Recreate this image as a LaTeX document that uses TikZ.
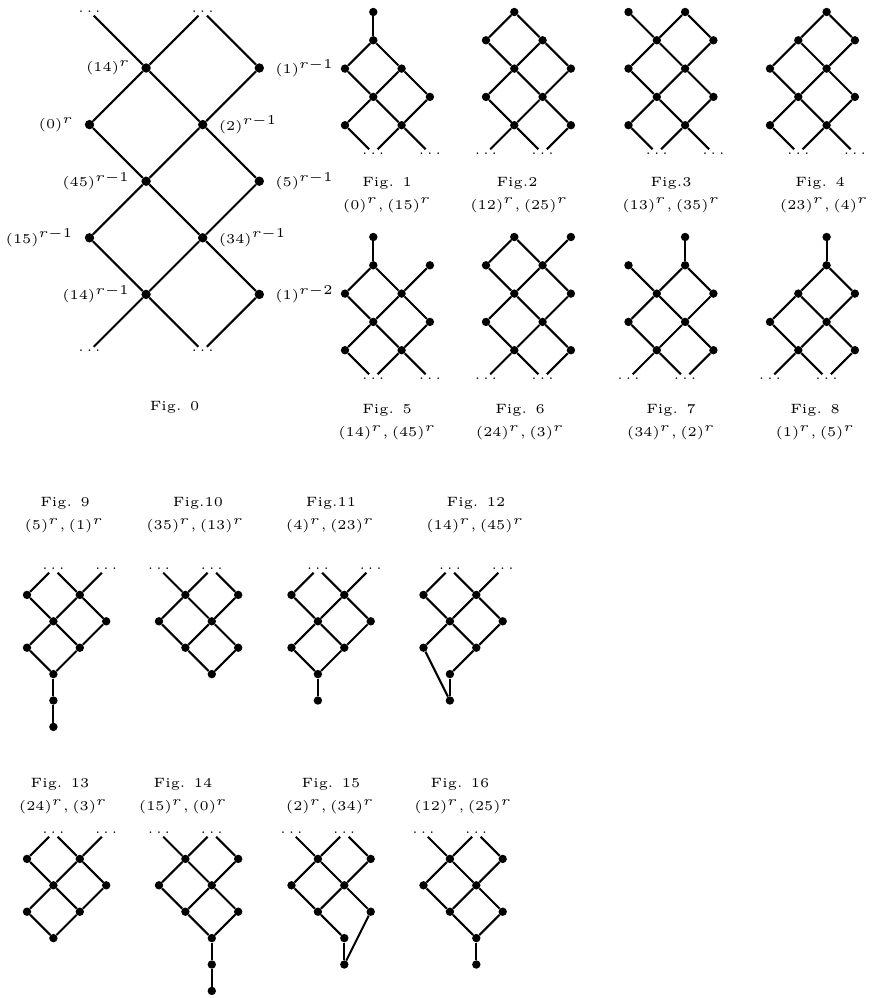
\documentclass[tikz,border=0pt]{standalone}
\newcommand\sm[1]{\scalebox{2.7}{\tiny #1}}
\newcommand\dts{\sm{.\kern1.1pt.\kern1.1pt.}}
\tikzset{
  dot/.style={circle,fill,inner sep=0pt,minimum size=8.4pt},
  bigdot/.style={dot,minimum size=9.4pt},
  edge/.style={line width=2.1pt},
  open/.style={edge,shorten >=6pt},
  lab/.style={inner sep=0pt},
  ell/.style={lab}
}
% one small lattice: prefix, origin, unit, nodes, dots, edges, open ends
\newcommand\lat[7]{%
\begin{scope}[name prefix=#1-,shift={#2},x=#3,y=-#3]
  \foreach \c/\r in {#4} \node[dot] (\c\r) at (\c,\r) {};
  \foreach \c/\r in {#5} \node[ell] (d\c) at (\c,\r) {\dts};
  \foreach \a/\b in {#6} \draw[edge] (\a) -- (\b);
  \foreach \a/\b in {#7} \draw[open] (\a) -- (d\b.center);
\end{scope}}
\begin{document}
\begin{tikzpicture}[x=1pt,y=-1pt]
\useasboundingbox (0,0) rectangle (874,998);
% Fig. 0
\begin{scope}[name prefix=z-,shift={(89.5,68)},x=56.6pt,y=-56.6pt,label distance=11pt]
  \node[bigdot,label={[lab]left:\sm{$(14)^r$}}] (10) at (1,0) {};
  \node[bigdot,label={[lab]right:\sm{$(1)^{r-1}$}}] (30) at (3,0) {};
  \node[bigdot,label={[lab]left:\sm{$(0)^r$}}] (01) at (0,1) {};
  \node[bigdot,label={[lab]right:\sm{$(2)^{r-1}$}}] (21) at (2,1) {};
  \node[bigdot,label={[lab]left:\sm{$(45)^{r-1}$}}] (12) at (1,2) {};
  \node[bigdot,label={[lab]right:\sm{$(5)^{r-1}$}}] (32) at (3,2) {};
  \node[bigdot,label={[lab]left:\sm{$(15)^{r-1}$}}] (03) at (0,3) {};
  \node[bigdot,label={[lab]right:\sm{$(34)^{r-1}$}}] (23) at (2,3) {};
  \node[bigdot,label={[lab]left:\sm{$(14)^{r-1}$}}] (14) at (1,4) {};
  \node[bigdot,label={[lab]right:\sm{$(1)^{r-2}$}}] (34) at (3,4) {};
  \node[ell] (t0) at (0,-1) {\dts};
  \node[ell] (t2) at (2,-1) {\dts};
  \node[ell] (b0) at (0,5) {\dts};
  \node[ell] (b2) at (2,5) {\dts};
  \foreach \a/\b in {10/01,10/21,30/21,01/12,21/12,21/32,12/03,12/23,32/23,03/14,23/14,23/34}
    \draw[edge] (\a) -- (\b);
  \foreach \a/\b in {10/t0,10/t2,30/t2,14/b0,14/b2,34/b2}
    \draw[open] (\a) -- (\b.center);
\end{scope}
\node[lab] (f0) at (174.5,407) {\sm{Fig. 0}};
% top rows
\lat{a1}{(345,12)}{28.3pt}{1/0,1/1,0/2,2/2,1/3,3/3,0/4,2/4}{1/5,3/5}{10/11,11/02,11/22,02/13,22/13,22/33,13/04,13/24,33/24}{04/1,24/1,24/3}
\lat{a2}{(486,12)}{28.3pt}{1/0,0/1,2/1,1/2,3/2,0/3,2/3,1/4,3/4}{0/5,2/5}{10/01,10/21,01/12,21/12,21/32,12/03,12/23,32/23,03/14,23/14,23/34}{14/0,14/2,34/2}
\lat{a3}{(628.5,12)}{28.3pt}{0/0,2/0,1/1,3/1,0/2,2/2,1/3,3/3,0/4,2/4}{1/5,3/5}{00/11,20/11,20/31,11/02,11/22,31/22,02/13,22/13,22/33,13/04,13/24,33/24}{04/1,24/1,24/3}
\lat{a4}{(770,12)}{28.3pt}{2/0,1/1,3/1,0/2,2/2,1/3,3/3,0/4,2/4}{1/5,3/5}{20/11,20/31,11/02,11/22,31/22,02/13,22/13,22/33,13/04,13/24,33/24}{04/1,24/1,24/3}
\lat{a5}{(345,237)}{28.3pt}{1/0,1/1,3/1,0/2,2/2,1/3,3/3,0/4,2/4}{1/5,3/5}{10/11,11/02,11/22,31/22,02/13,22/13,22/33,13/04,13/24,33/24}{04/1,24/1,24/3}
\lat{a6}{(486,237)}{28.3pt}{1/0,3/0,0/1,2/1,1/2,3/2,0/3,2/3,1/4,3/4}{0/5,2/5}{10/01,10/21,30/21,01/12,21/12,21/32,12/03,12/23,32/23,03/14,23/14,23/34}{14/0,14/2,34/2}
\lat{a7}{(628.5,237)}{28.3pt}{2/0,0/1,2/1,1/2,3/2,0/3,2/3,1/4,3/4}{0/5,2/5}{20/21,01/12,21/12,21/32,12/03,12/23,32/23,03/14,23/14,23/34}{14/0,14/2,34/2}
\lat{a8}{(770,237)}{28.3pt}{2/0,2/1,1/2,3/2,0/3,2/3,1/4,3/4}{0/5,2/5}{20/21,21/12,21/32,12/03,12/23,32/23,03/14,23/14,23/34}{14/0,14/2,34/2}
% bottom rows
\lat{a9}{(27,568.5)}{26.4pt}{0/1,2/1,1/2,3/2,0/3,2/3,1/4,1/5,1/6}{1/0,3/0}{01/12,21/12,21/32,12/03,12/23,32/23,03/14,23/14,14/15,15/16}{01/1,21/1,21/3}
\lat{a10}{(159,568.5)}{26.4pt}{1/1,3/1,0/2,2/2,1/3,3/3,2/4}{0/0,2/0}{11/02,11/22,31/22,02/13,22/13,22/33,13/24,33/24}{11/0,11/2,31/2}
\lat{a11}{(291.5,568.5)}{26.4pt}{0/1,2/1,1/2,3/2,0/3,2/3,1/4,1/5}{1/0,3/0}{01/12,21/12,21/32,12/03,12/23,32/23,03/14,23/14,14/15}{01/1,21/1,21/3}
\lat{a12}{(423.5,568.5)}{26.4pt}{0/1,2/1,1/2,3/2,0/3,2/3,1/4,1/5}{1/0,3/0}{01/12,21/12,21/32,12/03,12/23,32/23,23/14,14/15,03/15}{01/1,21/1,21/3}
\lat{a13}{(27,832.5)}{26.4pt}{0/1,2/1,1/2,3/2,0/3,2/3,1/4}{1/0,3/0}{01/12,21/12,21/32,12/03,12/23,32/23,03/14,23/14}{01/1,21/1,21/3}
\lat{a14}{(159,832.5)}{26.4pt}{1/1,3/1,0/2,2/2,1/3,3/3,2/4,2/5,2/6}{0/0,2/0}{11/02,11/22,31/22,02/13,22/13,22/33,13/24,33/24,24/25,25/26}{11/0,11/2,31/2}
\lat{a15}{(291.5,832.5)}{26.4pt}{1/1,3/1,0/2,2/2,1/3,3/3,2/4,2/5}{0/0,2/0}{11/02,11/22,31/22,02/13,22/13,22/33,13/24,24/25,33/25}{11/0,11/2,31/2}
\lat{a16}{(423.5,832.5)}{26.4pt}{1/1,3/1,0/2,2/2,1/3,3/3,2/4,2/5}{0/0,2/0}{11/02,11/22,31/22,02/13,22/13,22/33,13/24,33/24,24/25}{11/0,11/2,31/2}
% captions
\node[lab] (f1) at (387,183) {\sm{Fig. 1}};
\node[lab] (s1) at (387,205.5) {\sm{$(0)^r, (15)^r$}};
\node[lab] (f2) at (517,183) {\sm{Fig.2}};
\node[lab] (s2) at (519,205.5) {\sm{$(12)^r, (25)^r$}};
\node[lab] (f3) at (671,183) {\sm{Fig.3}};
\node[lab] (s3) at (671,205.5) {\sm{$(13)^r, (35)^r$}};
\node[lab] (f4) at (820,183) {\sm{Fig. 4}};
\node[lab] (s4) at (824,205.5) {\sm{$(23)^r, (4)^r$}};
\node[lab] (f5) at (387,410) {\sm{Fig. 5}};
\node[lab] (s5) at (387,432.5) {\sm{$(14)^r, (45)^r$}};
\node[lab] (f6) at (520,410) {\sm{Fig. 6}};
\node[lab] (s6) at (520,432.5) {\sm{$(24)^r, (3)^r$}};
\node[lab] (f7) at (671,410) {\sm{Fig. 7}};
\node[lab] (s7) at (671,432.5) {\sm{$(34)^r, (2)^r$}};
\node[lab] (f8) at (815,410) {\sm{Fig. 8}};
\node[lab] (s8) at (815,432.5) {\sm{$(1)^r, (5)^r$}};
\node[lab] (f9) at (65,503) {\sm{Fig. 9}};
\node[lab] (s9) at (64,525.5) {\sm{$(5)^r, (1)^r$}};
\node[lab] (f10) at (198,503) {\sm{Fig.10}};
\node[lab] (s10) at (195,525.5) {\sm{$(35)^r, (13)^r$}};
\node[lab] (f11) at (331,503) {\sm{Fig.11}};
\node[lab] (s11) at (330,525.5) {\sm{$(4)^r, (23)^r$}};
\node[lab] (f12) at (476,503) {\sm{Fig. 12}};
\node[lab] (s12) at (475,525.5) {\sm{$(14)^r, (45)^r$}};
\node[lab] (f13) at (60,784) {\sm{Fig. 13}};
\node[lab] (s13) at (63,806.5) {\sm{$(24)^r, (3)^r$}};
\node[lab] (f14) at (183,784) {\sm{Fig. 14}};
\node[lab] (s14) at (183,806.5) {\sm{$(15)^r, (0)^r$}};
\node[lab] (f15) at (331,784) {\sm{Fig. 15}};
\node[lab] (s15) at (330,806.5) {\sm{$(2)^r, (34)^r$}};
\node[lab] (f16) at (460,784) {\sm{Fig. 16}};
\node[lab] (s16) at (463,806.5) {\sm{$(12)^r, (25)^r$}};
\end{tikzpicture}
\end{document}
